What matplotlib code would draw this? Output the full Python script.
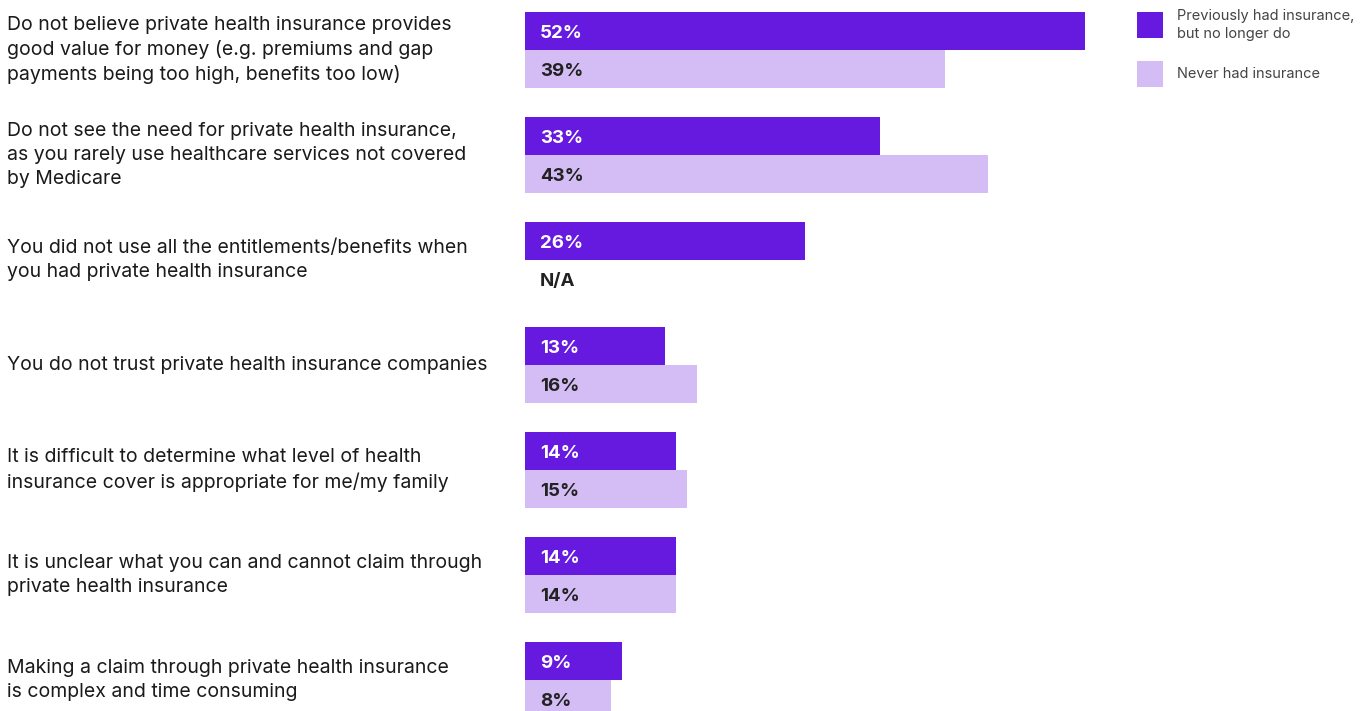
import matplotlib.pyplot as plt
import matplotlib.transforms as mtransforms
from matplotlib.patches import Rectangle
import numpy as np

# === Data ===
reasons = [
    "Do not believe private health insurance provides\ngood value for money (e.g. premiums and gap\npayments being too high, benefits too low)",
    "Do not see the need for private health insurance,\nas you rarely use healthcare services not covered\nby Medicare",
    "You did not use all the entitlements/benefits when\nyou had private health insurance",
    "You do not trust private health insurance companies",
    "It is difficult to determine what level of health\ninsurance cover is appropriate for me/my family",
    "It is unclear what you can and cannot claim through\nprivate health insurance",
    "Making a claim through private health insurance\nis complex and time consuming",
]
previously_had = [52, 33, 26, 13, 14, 14, 9]
never_had = [39, 43, None, 16, 15, 14, 8]
series_names = ["Previously had insurance,\nbut no longer do", "Never had insurance"]

# === Style ===
W, H = 1369, 711
dark = "#661ADF"
light = "#D4BDF4"
text_col = "#1a1a1a"
font = "Inter"
plt.rcParams['font.family'] = [font, 'DejaVu Sans']

fig = plt.figure(figsize=(W / 100, H / 100), dpi=100)
ax = fig.add_axes([525 / W, 0, 560 / W, 1])
ax.set_xlim(0, 52)
ax.set_ylim((711 - 50) / 105, -50 / 105)
ax.axis('off')

bh = 38 / 105
y = np.arange(len(reasons))
ax.barh(y - bh / 2, previously_had, height=bh, color=dark, linewidth=0)
nv = [v if v is not None else 0 for v in never_had]
ax.barh(y + bh / 2, nv, height=bh, color=light, linewidth=0)

# value labels
lab_x = mtransforms.offset_copy(ax.transData, fig=fig, x=15, y=-2.5, units='dots')
for i, (a, b) in enumerate(zip(previously_had, never_had)):
    ax.text(0, i - bh / 2, f"{a}%", transform=lab_x, color="white",
            fontsize=13.5, fontweight='bold', va='center', ha='left')
    txt = f"{b}%" if b is not None else "N/A"
    ax.text(0, i + bh / 2, txt, transform=lab_x, color="#222222",
            fontsize=13.5, fontweight='bold', va='center', ha='left')

# category labels
trans = mtransforms.blended_transform_factory(fig.transFigure, ax.transData)
for i, r in enumerate(reasons):
    ax.text(7 / W, i, r, transform=trans, fontsize=14, color=text_col,
            va='center', ha='left', linespacing=1.42)

# legend
for k, (name, col) in enumerate(zip(series_names, [dark, light])):
    top = 12 + 49 * k
    fig.patches.append(Rectangle((1137 / W, 1 - (top + 26) / H), 26 / W, 26 / H,
                                 transform=fig.transFigure, color=col, linewidth=0))
    fig.text(1177 / W, 1 - (top + 13) / H, name, fontsize=10.5, color="#444444",
             va='center', ha='left', linespacing=1.3)

plt.savefig("out.png", dpi=100)
